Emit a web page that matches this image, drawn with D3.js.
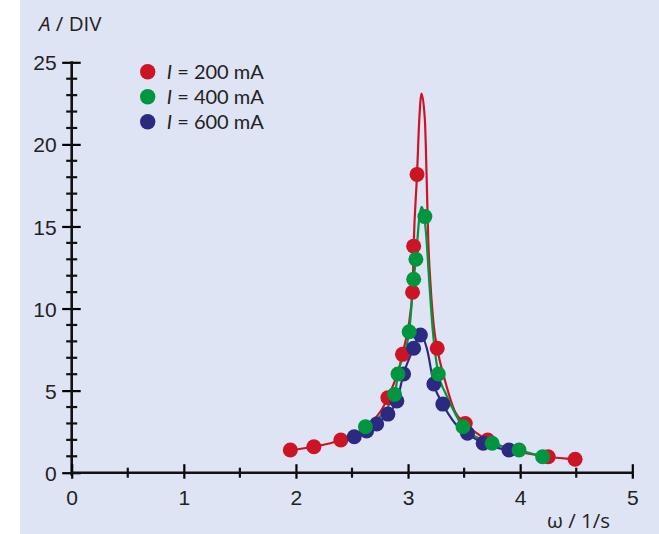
<!DOCTYPE html>
<html>
<head>
<meta charset="utf-8">
<script src="https://cdn.jsdelivr.net/npm/d3@7"></script>
<style>
  body { margin: 0; background: #fff; }
  svg { display: block; font-family: "Open Sans", "Noto Sans", sans-serif; }
  .legend text { font-family: Lato, "Open Sans", sans-serif; }
</style>
</head>
<body>
<svg width="659" height="534"></svg>
<script>
// measured points [omega, A]
let red200 = [[1.95,1.38],[2.16,1.58],[2.40,1.99],[2.82,4.57],[2.95,7.21],[3.04,10.99],[3.05,13.8],[3.08,18.17],
  [3.26,7.58],[3.51,3.0],[3.71,1.99],[4.25,0.97],[4.49,0.82]];
let green400 = [[2.62,2.80],[2.88,4.77],[2.91,6.01],[3.01,8.59],[3.05,11.78],[3.07,13.0],[3.15,15.6],
  [3.27,6.01],[3.49,2.80],[3.75,1.79],[3.99,1.38],[4.20,0.97]];
let blue600 = [[2.52,2.19],[2.63,2.54],[2.72,2.97],[2.82,3.57],[2.90,4.37],[2.96,6.01],[3.05,7.58],[3.11,8.39],
  [3.23,5.40],[3.31,4.18],[3.53,2.40],[3.67,1.79],[3.90,1.38]];

// curves
let redCurve = [[1.95,1.38],[2.16,1.58],[2.40,1.99],[2.62,2.75],[2.82,4.57],[2.95,7.21],[3.04,10.99],[3.05,13.8],
  [3.08,18.17],[3.10,21.5],[3.12,23.1],[3.15,21.5],[3.165,18.2],[3.18,14.2],[3.20,11.5],[3.23,8.9],[3.26,7.58],
  [3.33,5.6],[3.42,3.7],[3.51,3.0],[3.71,1.99],[4.25,0.97],[4.49,0.82]];
let greenCurve = [[2.62,2.80],[2.88,4.77],[2.91,6.01],[3.01,8.59],[3.05,11.78],[3.07,13.0],[3.10,15.5],[3.12,16.2],
  [3.14,15.8],[3.16,14.6],[3.19,11.5],[3.22,8.7],[3.27,6.01],[3.33,4.9],[3.42,3.6],[3.49,2.80],[3.75,1.79],
  [3.99,1.38],[4.20,0.97]];
let blueCurve = [[2.52,2.19],[2.63,2.54],[2.72,2.97],[2.82,3.57],[2.90,4.37],[2.96,6.01],[3.05,7.58],[3.11,8.45],
  [3.17,7.5],[3.23,5.40],[3.31,4.18],[3.42,3.0],[3.53,2.40],[3.67,1.79],[3.90,1.38]];

let xMajor = [0, 1, 2, 3, 4, 5];
let xMinor = [0.5, 1.5, 2.5, 3.5, 4.5];
let yMajor = [0, 5, 10, 15, 20, 25];
let yMinor = d3.range(0, 26).filter(v => v % 5 != 0);
let legendLabels = ['200 mA', '400 mA', '600 mA'];

let colors = {red: '#cc1424', green: '#00963f', blue: '#2c2a80'};

let svg = d3.select('svg');
svg.append('rect').attr('x', 20).attr('y', 0).attr('width', 639).attr('height', 534).attr('fill', '#dfe4f5');

let x = d3.scaleLinear().domain([0, 5]).range([71.7, 632.3]);
let y = d3.scaleLinear().domain([0, 25]).range([472.7, 62.3]);

// y axis
let yAxis = svg.append('g').attr('transform', 'translate(' + x(0) + ',0)')
  .call(d3.axisLeft(y).tickValues(yMajor).tickSize(9).tickPadding(6).tickFormat(d3.format('d')));
yAxis.select('.domain').remove();
yAxis.selectAll('.tick line').attr('x2', 9).attr('x1', -9.5).attr('stroke-width', 2.2);
yAxis.selectAll('.tick text').attr('font-size', 21).attr('fill', '#222').attr('dy', '0.36em');
yAxis.selectAll('.minor').data(yMinor).join('line')
  .attr('x1', -5.5).attr('x2', 5.5)
  .attr('y1', d => y(d)).attr('y2', d => y(d))
  .attr('stroke', '#111').attr('stroke-width', 2.2);
yAxis.append('line').attr('x1', 0).attr('x2', 0).attr('y1', y(0) + 3).attr('y2', y(25) - 1)
  .attr('stroke', '#111').attr('stroke-width', 2.6);

// x axis
let xAxis = svg.append('g').attr('transform', 'translate(0,' + y(0) + ')')
  .call(d3.axisBottom(x).tickValues(xMajor).tickSize(6).tickPadding(11).tickFormat(d3.format('d')));
xAxis.select('.domain').remove();
xAxis.selectAll('.tick line').attr('y1', -8.5).attr('y2', 6).attr('stroke-width', 2.2);
xAxis.selectAll('.tick text').attr('font-size', 21).attr('fill', '#222');
xAxis.selectAll('.minor').data(xMinor).join('line')
  .attr('x1', d => x(d)).attr('x2', d => x(d))
  .attr('y1', -5).attr('y2', 5)
  .attr('stroke', '#111').attr('stroke-width', 2.2);
xAxis.append('line').attr('x1', x(0) - 1).attr('x2', x(5) + 1).attr('y1', 0).attr('y2', 0)
  .attr('stroke', '#111').attr('stroke-width', 2.6);

// axis titles
let yTitle = svg.append('text').attr('x', 39).attr('y', 31).attr('font-size', 20.5).attr('fill', '#222');
yTitle.append('tspan').attr('font-style', 'italic').text('A');
yTitle.append('tspan').text(' / DIV');
svg.append('text').attr('x', 547).attr('y', 528).attr('font-size', 20.5).attr('fill', '#222').text('ω / 1/s');

// curves
let line = d3.line().x(d => x(d[0])).y(d => y(d[1])).curve(d3.curveMonotoneX);
let series = [
  {curve: redCurve, pts: red200, color: colors.red},
  {curve: blueCurve, pts: blue600, color: colors.blue},
  {curve: greenCurve, pts: green400, color: colors.green}
];
series.forEach(function(s) {
  svg.append('path').datum(s.curve).attr('d', line)
    .attr('fill', 'none').attr('stroke', s.color).attr('stroke-width', 2.2);
});
series.forEach(function(s) {
  svg.append('g').selectAll('circle').data(s.pts).join('circle')
    .attr('cx', d => x(d[0])).attr('cy', d => y(d[1])).attr('r', 7.5)
    .attr('fill', s.color);
});

// legend
let legColors = [colors.red, colors.green, colors.blue];
let leg = svg.append('g').attr('class', 'legend').selectAll('g').data(legendLabels).join('g')
  .attr('transform', (d, i) => 'translate(147.7,' + (71.7 + i * 25) + ')');
leg.append('circle').attr('r', 7.7).attr('fill', (d, i) => legColors[i]);
let lt = leg.append('text').attr('x', 19).attr('y', 7.5).attr('font-size', 20).attr('fill', '#222');
lt.append('tspan').attr('font-style', 'italic').text('I');
lt.append('tspan').text(d => ' = ' + d);
</script>
</body>
</html>
